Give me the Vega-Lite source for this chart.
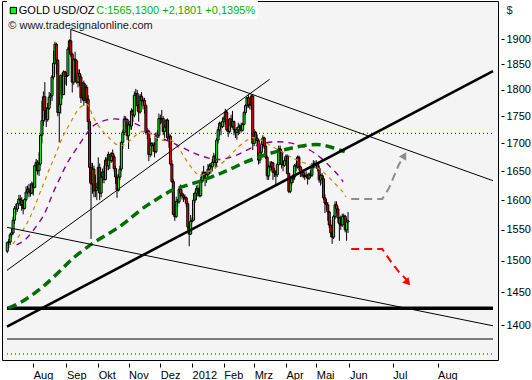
{
"$schema":"https://vega.github.io/schema/vega-lite/v6.json",
"width":496,"height":359,
"autosize":"none",
"padding":{"left":2,"top":1,"right":34,"bottom":20},
"background":"#ffffff",
"config":{"view":{"fill":"#f4f4f4","stroke":"#000000","strokeWidth":1},"font":"Liberation Sans"},
"datasets":{
"c":[
{"i":-18,"o":1515,"h":1531,"l":1512,"c":1529},{"i":-17,"o":1529,"h":1535,"l":1520,"c":1530},{"i":-16,"o":1530,"h":1545,"l":1525,"c":1542},{"i":-15,"o":1542,"h":1552,"l":1537,"c":1545},{"i":-14,"o":1545,"h":1572,"l":1542,"c":1566},{"i":-13,"o":1566,"h":1590,"l":1560,"c":1586},{"i":-12,"o":1586,"h":1594,"l":1575,"c":1585},{"i":-11,"o":1585,"h":1598,"l":1580,"c":1594},{"i":-10,"o":1594,"h":1609,"l":1590,"c":1602},{"i":-9,"o":1602,"h":1609,"l":1590,"c":1600},{"i":-8,"o":1600,"h":1605,"l":1582,"c":1592},{"i":-7,"o":1592,"h":1600,"l":1576,"c":1586},{"i":-6,"o":1586,"h":1603,"l":1584,"c":1601},{"i":-5,"o":1601,"h":1624,"l":1598,"c":1614},{"i":-4,"o":1614,"h":1625,"l":1610,"c":1619},{"i":-3,"o":1619,"h":1628,"l":1605,"c":1615},{"i":-2,"o":1615,"h":1629,"l":1606,"c":1612},{"i":-1,"o":1612,"h":1632,"l":1610,"c":1628},
{"i":0,"o":1628,"h":1631,"l":1608,"c":1622},{"i":1,"o":1622,"h":1662,"l":1620,"c":1660},{"i":2,"o":1660,"h":1672,"l":1650,"c":1666},{"i":3,"o":1666,"h":1670,"l":1644,"c":1651},{"i":4,"o":1651,"h":1684,"l":1642,"c":1663},{"i":5,"o":1663,"h":1717,"l":1660,"c":1715},{"i":6,"o":1715,"h":1779,"l":1700,"c":1742},{"i":7,"o":1742,"h":1797,"l":1732,"c":1787},{"i":8,"o":1787,"h":1815,"l":1740,"c":1760},{"i":9,"o":1760,"h":1767,"l":1730,"c":1744},{"i":10,"o":1744,"h":1775,"l":1740,"c":1765},{"i":11,"o":1765,"h":1796,"l":1762,"c":1786},{"i":12,"o":1786,"h":1794,"l":1772,"c":1789},{"i":13,"o":1789,"h":1829,"l":1779,"c":1825},{"i":14,"o":1825,"h":1877,"l":1820,"c":1852},{"i":15,"o":1852,"h":1895,"l":1849,"c":1890},{"i":16,"o":1890,"h":1893,"l":1830,"c":1858},{"i":17,"o":1858,"h":1860,"l":1750,"c":1757},{"i":18,"o":1757,"h":1787,"l":1702,"c":1772},{"i":19,"o":1772,"h":1830,"l":1755,"c":1828},{"i":20,"o":1828,"h":1833,"l":1783,"c":1791},{"i":21,"o":1791,"h":1838,"l":1790,"c":1835},{"i":22,"o":1835,"h":1837,"l":1810,"c":1826},
{"i":23,"o":1826,"h":1835,"l":1808,"c":1828},{"i":24,"o":1828,"h":1884,"l":1826,"c":1880},{"i":25,"o":1880,"h":1900,"l":1870,"c":1897},{"i":26,"o":1897,"h":1920,"l":1865,"c":1870},{"i":27,"o":1870,"h":1873,"l":1795,"c":1815},{"i":28,"o":1815,"h":1863,"l":1810,"c":1860},{"i":29,"o":1860,"h":1875,"l":1838,"c":1857},{"i":30,"o":1857,"h":1860,"l":1812,"c":1815},{"i":31,"o":1815,"h":1840,"l":1805,"c":1832},{"i":32,"o":1832,"h":1840,"l":1808,"c":1825},{"i":33,"o":1825,"h":1830,"l":1775,"c":1785},{"i":34,"o":1785,"h":1815,"l":1780,"c":1813},{"i":35,"o":1813,"h":1818,"l":1770,"c":1780},{"i":36,"o":1780,"h":1812,"l":1775,"c":1805},{"i":37,"o":1805,"h":1810,"l":1774,"c":1782},{"i":38,"o":1782,"h":1790,"l":1725,"c":1740},{"i":39,"o":1740,"h":1745,"l":1630,"c":1657},{"i":40,"o":1657,"h":1665,"l":1535,"c":1628},{"i":41,"o":1628,"h":1665,"l":1611,"c":1654},{"i":42,"o":1654,"h":1660,"l":1605,"c":1616},{"i":43,"o":1616,"h":1644,"l":1605,"c":1617},{"i":44,"o":1617,"h":1630,"l":1600,"c":1622},
{"i":45,"o":1622,"h":1675,"l":1618,"c":1657},{"i":46,"o":1657,"h":1664,"l":1600,"c":1612},{"i":47,"o":1612,"h":1645,"l":1605,"c":1640},{"i":48,"o":1640,"h":1655,"l":1630,"c":1649},{"i":49,"o":1649,"h":1660,"l":1629,"c":1636},{"i":50,"o":1636,"h":1675,"l":1634,"c":1670},{"i":51,"o":1670,"h":1675,"l":1652,"c":1660},{"i":52,"o":1660,"h":1685,"l":1652,"c":1680},{"i":53,"o":1680,"h":1681,"l":1654,"c":1669},{"i":54,"o":1669,"h":1684,"l":1665,"c":1682},{"i":55,"o":1682,"h":1689,"l":1667,"c":1676},{"i":56,"o":1676,"h":1680,"l":1650,"c":1655},{"i":57,"o":1655,"h":1660,"l":1628,"c":1640},{"i":58,"o":1640,"h":1645,"l":1604,"c":1617},{"i":59,"o":1617,"h":1645,"l":1615,"c":1640},{"i":60,"o":1640,"h":1660,"l":1635,"c":1654},{"i":61,"o":1654,"h":1705,"l":1650,"c":1702},{"i":62,"o":1702,"h":1725,"l":1690,"c":1720},{"i":63,"o":1720,"h":1751,"l":1715,"c":1745},{"i":64,"o":1745,"h":1750,"l":1732,"c":1744},{"i":65,"o":1744,"h":1746,"l":1706,"c":1714},
{"i":66,"o":1714,"h":1742,"l":1690,"c":1735},{"i":67,"o":1735,"h":1741,"l":1725,"c":1732},{"i":68,"o":1732,"h":1765,"l":1725,"c":1760},{"i":69,"o":1760,"h":1763,"l":1740,"c":1752},{"i":70,"o":1752,"h":1797,"l":1748,"c":1790},{"i":71,"o":1790,"h":1802,"l":1782,"c":1793},{"i":72,"o":1793,"h":1800,"l":1760,"c":1770},{"i":73,"o":1770,"h":1773,"l":1740,"c":1758},{"i":74,"o":1758,"h":1792,"l":1755,"c":1788},{"i":75,"o":1788,"h":1796,"l":1770,"c":1779},{"i":76,"o":1779,"h":1785,"l":1763,"c":1780},{"i":77,"o":1780,"h":1785,"l":1755,"c":1770},{"i":78,"o":1770,"h":1774,"l":1716,"c":1720},{"i":79,"o":1720,"h":1728,"l":1708,"c":1722},{"i":80,"o":1722,"h":1725,"l":1668,"c":1680},{"i":81,"o":1680,"h":1710,"l":1675,"c":1700},{"i":82,"o":1700,"h":1702,"l":1678,"c":1696},{"i":83,"o":1696,"h":1702,"l":1685,"c":1697},{"i":84,"o":1697,"h":1702,"l":1675,"c":1685},{"i":85,"o":1685,"h":1720,"l":1682,"c":1714},{"i":86,"o":1714,"h":1724,"l":1705,"c":1715},{"i":87,"o":1715,"h":1755,"l":1710,"c":1746},
{"i":88,"o":1746,"h":1753,"l":1735,"c":1745},{"i":89,"o":1745,"h":1762,"l":1737,"c":1746},{"i":90,"o":1746,"h":1750,"l":1715,"c":1722},{"i":91,"o":1722,"h":1735,"l":1710,"c":1730},{"i":92,"o":1730,"h":1744,"l":1726,"c":1743},{"i":93,"o":1743,"h":1746,"l":1705,"c":1710},{"i":94,"o":1710,"h":1718,"l":1692,"c":1713},{"i":95,"o":1713,"h":1716,"l":1660,"c":1663},{"i":96,"o":1663,"h":1670,"l":1630,"c":1632},{"i":97,"o":1632,"h":1636,"l":1574,"c":1576},{"i":98,"o":1576,"h":1592,"l":1565,"c":1572},{"i":99,"o":1572,"h":1606,"l":1570,"c":1598},{"i":100,"o":1598,"h":1602,"l":1588,"c":1597},{"i":101,"o":1597,"h":1622,"l":1594,"c":1619},{"i":102,"o":1619,"h":1627,"l":1605,"c":1612},{"i":103,"o":1612,"h":1618,"l":1601,"c":1608},{"i":104,"o":1608,"h":1611,"l":1597,"c":1605},{"i":105,"o":1605,"h":1610,"l":1600,"c":1604},{"i":106,"o":1604,"h":1606,"l":1588,"c":1594},{"i":107,"o":1594,"h":1598,"l":1550,"c":1555},{"i":108,"o":1555,"h":1560,"l":1523,"c":1543},{"i":109,"o":1543,"h":1575,"l":1542,"c":1564},
{"i":110,"o":1564,"h":1571,"l":1562,"c":1566},{"i":111,"o":1566,"h":1612,"l":1565,"c":1600},{"i":112,"o":1600,"h":1615,"l":1595,"c":1612},{"i":113,"o":1612,"h":1625,"l":1600,"c":1620},{"i":114,"o":1620,"h":1627,"l":1606,"c":1616},{"i":115,"o":1616,"h":1622,"l":1605,"c":1608},{"i":116,"o":1608,"h":1640,"l":1605,"c":1634},{"i":117,"o":1634,"h":1650,"l":1630,"c":1645},{"i":118,"o":1645,"h":1660,"l":1632,"c":1648},{"i":119,"o":1648,"h":1650,"l":1624,"c":1638},{"i":120,"o":1638,"h":1646,"l":1630,"c":1644},{"i":121,"o":1644,"h":1663,"l":1640,"c":1654},{"i":122,"o":1654,"h":1664,"l":1645,"c":1660},{"i":123,"o":1660,"h":1665,"l":1646,"c":1658},{"i":124,"o":1658,"h":1672,"l":1650,"c":1666},{"i":125,"o":1666,"h":1683,"l":1660,"c":1677},{"i":126,"o":1677,"h":1680,"l":1655,"c":1666},{"i":127,"o":1666,"h":1710,"l":1658,"c":1706},{"i":128,"o":1706,"h":1730,"l":1700,"c":1725},{"i":129,"o":1725,"h":1740,"l":1713,"c":1737},{"i":130,"o":1737,"h":1740,"l":1715,"c":1731},{"i":131,"o":1731,"h":1748,"l":1728,"c":1740},
{"i":132,"o":1740,"h":1750,"l":1730,"c":1745},{"i":133,"o":1745,"h":1764,"l":1735,"c":1758},{"i":134,"o":1758,"h":1762,"l":1722,"c":1725},{"i":135,"o":1725,"h":1728,"l":1712,"c":1722},{"i":136,"o":1722,"h":1747,"l":1718,"c":1745},{"i":137,"o":1745,"h":1753,"l":1728,"c":1732},{"i":138,"o":1732,"h":1760,"l":1728,"c":1740},{"i":139,"o":1740,"h":1742,"l":1715,"c":1725},{"i":140,"o":1725,"h":1727,"l":1710,"c":1720},{"i":141,"o":1720,"h":1730,"l":1707,"c":1725},{"i":142,"o":1725,"h":1738,"l":1715,"c":1730},{"i":143,"o":1730,"h":1735,"l":1718,"c":1732},{"i":144,"o":1732,"h":1738,"l":1720,"c":1724},{"i":145,"o":1724,"h":1738,"l":1722,"c":1735},{"i":146,"o":1735,"h":1760,"l":1733,"c":1757},{"i":147,"o":1757,"h":1773,"l":1752,"c":1770},{"i":148,"o":1770,"h":1787,"l":1765,"c":1785},{"i":149,"o":1785,"h":1790,"l":1766,"c":1772},{"i":150,"o":1772,"h":1778,"l":1763,"c":1771},{"i":151,"o":1771,"h":1792,"l":1762,"c":1788},{"i":152,"o":1788,"h":1791,"l":1688,"c":1700},
{"i":153,"o":1700,"h":1726,"l":1695,"c":1720},{"i":154,"o":1720,"h":1723,"l":1700,"c":1710},{"i":155,"o":1710,"h":1716,"l":1695,"c":1705},{"i":156,"o":1705,"h":1708,"l":1662,"c":1670},{"i":157,"o":1670,"h":1688,"l":1664,"c":1684},{"i":158,"o":1684,"h":1705,"l":1680,"c":1698},{"i":159,"o":1698,"h":1715,"l":1692,"c":1710},{"i":160,"o":1710,"h":1712,"l":1690,"c":1695},{"i":161,"o":1695,"h":1703,"l":1672,"c":1675},{"i":162,"o":1675,"h":1678,"l":1635,"c":1642},{"i":163,"o":1642,"h":1662,"l":1635,"c":1658},{"i":164,"o":1658,"h":1668,"l":1650,"c":1659},{"i":165,"o":1659,"h":1668,"l":1652,"c":1665},{"i":166,"o":1665,"h":1667,"l":1635,"c":1648},{"i":167,"o":1648,"h":1656,"l":1640,"c":1650},{"i":168,"o":1650,"h":1652,"l":1627,"c":1644},{"i":169,"o":1644,"h":1665,"l":1640,"c":1662},{"i":170,"o":1662,"h":1696,"l":1660,"c":1690},{"i":171,"o":1690,"h":1696,"l":1678,"c":1685},{"i":172,"o":1685,"h":1690,"l":1655,"c":1662},{"i":173,"o":1662,"h":1665,"l":1650,"c":1661},{"i":174,"o":1661,"h":1675,"l":1658,"c":1669},
{"i":175,"o":1669,"h":1680,"l":1660,"c":1677},{"i":176,"o":1677,"h":1680,"l":1645,"c":1646},{"i":177,"o":1646,"h":1648,"l":1612,"c":1615},{"i":178,"o":1615,"h":1635,"l":1612,"c":1630},{"i":179,"o":1630,"h":1640,"l":1625,"c":1637},{"i":180,"o":1637,"h":1645,"l":1630,"c":1640},{"i":181,"o":1640,"h":1663,"l":1635,"c":1660},{"i":182,"o":1660,"h":1665,"l":1650,"c":1658},{"i":183,"o":1658,"h":1678,"l":1655,"c":1675},{"i":184,"o":1675,"h":1678,"l":1652,"c":1658},{"i":185,"o":1658,"h":1660,"l":1640,"c":1650},{"i":186,"o":1650,"h":1655,"l":1640,"c":1648},{"i":187,"o":1648,"h":1653,"l":1638,"c":1642},{"i":188,"o":1642,"h":1648,"l":1635,"c":1641},{"i":189,"o":1641,"h":1650,"l":1638,"c":1643},{"i":190,"o":1643,"h":1646,"l":1627,"c":1638},{"i":191,"o":1638,"h":1648,"l":1635,"c":1645},{"i":192,"o":1645,"h":1652,"l":1638,"c":1643},{"i":193,"o":1643,"h":1665,"l":1640,"c":1660},{"i":194,"o":1660,"h":1670,"l":1655,"c":1662},{"i":195,"o":1662,"h":1668,"l":1656,"c":1664},
{"i":196,"o":1664,"h":1670,"l":1655,"c":1662},{"i":197,"o":1662,"h":1664,"l":1650,"c":1655},{"i":198,"o":1655,"h":1660,"l":1630,"c":1635},{"i":199,"o":1635,"h":1645,"l":1625,"c":1643},{"i":200,"o":1643,"h":1647,"l":1628,"c":1637},{"i":201,"o":1637,"h":1642,"l":1600,"c":1604},{"i":202,"o":1604,"h":1610,"l":1578,"c":1595},{"i":203,"o":1595,"h":1602,"l":1583,"c":1592},{"i":204,"o":1592,"h":1597,"l":1565,"c":1580},{"i":205,"o":1580,"h":1582,"l":1553,"c":1558},{"i":206,"o":1558,"h":1566,"l":1538,"c":1545},{"i":207,"o":1545,"h":1549,"l":1527,"c":1538},{"i":208,"o":1538,"h":1575,"l":1535,"c":1572},{"i":209,"o":1572,"h":1598,"l":1568,"c":1592},{"i":210,"o":1592,"h":1598,"l":1578,"c":1585},{"i":211,"o":1585,"h":1590,"l":1562,"c":1570},{"i":212,"o":1570,"h":1572,"l":1532,"c":1560},{"i":213,"o":1560,"h":1574,"l":1550,"c":1558},{"i":214,"o":1558,"h":1577,"l":1555,"c":1572},{"i":215,"o":1572,"h":1577,"l":1565,"c":1573},{"i":216,"o":1573,"h":1575,"l":1546,"c":1550},{"i":217,"o":1550,"h":1570,"l":1532,"c":1563},{"i":218,"o":1563,"h":1580,"l":1545,"c":1565}
],
"ln":[
{"s":"a","i":25.72,"p":1920.4},{"s":"a","i":318.4,"p":1633.6},
{"s":"b","i":-18.2,"p":1554.2},{"s":"b","i":318.4,"p":1399.0},
{"s":"c","i":-18.2,"p":1484.5},{"s":"c","i":163.69,"p":1820.5},
{"s":"sep","i":-18.2,"p":1379.4},{"s":"sep","i":318.4,"p":1379.4},
{"s":"d","i":-18.2,"p":1397.9},{"s":"d","i":318.4,"p":1836.7},
{"s":"h1","i":-18.2,"p":1425.4},{"s":"h1","i":318.4,"p":1425.4},
{"s":"h2","i":-18.2,"p":1718.4},{"s":"h2","i":318.4,"p":1718.4},
{"s":"h3","i":-18.2,"p":1357.5},{"s":"h3","i":318.4,"p":1357.5},
{"s":"g","i":-17.31,"p":1425.4},{"s":"g","i":-9.37,"p":1433.1},{"s":"g","i":-1.43,"p":1444.7},{"s":"g","i":6.45,"p":1457.8},{"s":"g","i":13.23,"p":1471.9},{"s":"g","i":21.17,"p":1489.3},{"s":"g","i":26.81,"p":1503.0},{"s":"g","i":34.75,"p":1517.0},{"s":"g","i":41.53,"p":1528.9},{"s":"g","i":49.47,"p":1539.9},{"s":"g","i":57.35,"p":1551.4},{"s":"g","i":65.29,"p":1564.8},{"s":"g","i":72.07,"p":1579.4},{"s":"g","i":80.01,"p":1593.4},{"s":"g","i":85.65,"p":1601.5},{"s":"g","i":93.59,"p":1614.5},{"s":"g","i":100.37,"p":1621.4},{"s":"g","i":112.79,"p":1630.1},{"s":"g","i":122.97,"p":1639.5},{"s":"g","i":130.91,"p":1647.6},{"s":"g","i":138.79,"p":1656.4},{"s":"g","i":147.88,"p":1667.9},{"s":"g","i":155.75,"p":1675.0},{"s":"g","i":163.69,"p":1682.1},{"s":"g","i":172.72,"p":1688.1},{"s":"g","i":180.66,"p":1693.0},{"s":"g","i":189.68,"p":1697.1},{"s":"g","i":198.78,"p":1698.9},{"s":"g","i":206.65,"p":1693.0},{"s":"g","i":215.75,"p":1685.0},
{"s":"pu","i":-11.6,"p":1525.2},{"s":"pu","i":-4.82,"p":1533.3},{"s":"pu","i":2.85,"p":1558.1},{"s":"pu","i":7.6,"p":1574.9},{"s":"pu","i":10.99,"p":1595.2},{"s":"pu","i":14.39,"p":1617.4},{"s":"pu","i":18.93,"p":1640.1},{"s":"pu","i":23.21,"p":1664.8},{"s":"pu","i":27.96,"p":1682.7},{"s":"pu","i":33.39,"p":1704.4},{"s":"pu","i":38.14,"p":1722.7},{"s":"pu","i":41.53,"p":1733.8},{"s":"pu","i":48.32,"p":1742.2},{"s":"pu","i":56.26,"p":1746.3},{"s":"pu","i":63.05,"p":1743.1},{"s":"pu","i":69.83,"p":1737.5},{"s":"pu","i":77.5,"p":1728.2},{"s":"pu","i":82.25,"p":1719.0},{"s":"pu","i":89.04,"p":1709.0},{"s":"pu","i":96.98,"p":1700.8},{"s":"pu","i":103.97,"p":1691.7},{"s":"pu","i":109.4,"p":1684.5},{"s":"pu","i":114.15,"p":1679.1},{"s":"pu","i":120.9,"p":1673.7},{"s":"pu","i":126.4,"p":1670.1},{"s":"pu","i":133.2,"p":1671.9},{"s":"pu","i":139.9,"p":1677.3},{"s":"pu","i":146.7,"p":1686.3},{"s":"pu","i":153.5,"p":1695.3},{"s":"pu","i":160.3,"p":1700.8},{"s":"pu","i":165.7,"p":1703.1},{"s":"pu","i":175.0,"p":1703.1},{"s":"pu","i":184.2,"p":1697.2},{"s":"pu","i":192.0,"p":1688.1},{"s":"pu","i":199.7,"p":1673.7},{"s":"pu","i":205.6,"p":1658.2},{"s":"pu","i":211.3,"p":1643.6},{"s":"pu","i":214.6,"p":1631.8},
{"s":"or","i":-14.12,"p":1526.8},{"s":"or","i":-9.37,"p":1541.6},{"s":"or","i":-4.82,"p":1558.1},{"s":"or","i":-1.43,"p":1574.9},{"s":"or","i":1.97,"p":1595.2},{"s":"or","i":5.36,"p":1617.4},{"s":"or","i":8.75,"p":1638.3},{"s":"or","i":12.15,"p":1661.2},{"s":"or","i":15.54,"p":1679.1},{"s":"or","i":18.46,"p":1700.8},{"s":"or","i":21.17,"p":1717.2},{"s":"or","i":25.72,"p":1737.5},{"s":"or","i":30.0,"p":1759.9},{"s":"or","i":33.39,"p":1769.4},{"s":"or","i":36.79,"p":1775.0},{"s":"or","i":38.82,"p":1769.4},{"s":"or","i":40.18,"p":1756.2},{"s":"or","i":43.57,"p":1737.5},{"s":"or","i":48.32,"p":1721.4},{"s":"or","i":53.75,"p":1706.2},{"s":"or","i":58.5,"p":1695.3},{"s":"or","i":61.9,"p":1695.3},{"s":"or","i":66.44,"p":1703.1},{"s":"or","i":70.72,"p":1715.4},{"s":"or","i":76.62,"p":1724.5},{"s":"or","i":80.9,"p":1719.0},{"s":"or","i":85.65,"p":1708.0},{"s":"or","i":90.4,"p":1704.4},{"s":"or","i":95.83,"p":1708.0},{"s":"or","i":99.9,"p":1695.3},{"s":"or","i":103.3,"p":1680.9},{"s":"or","i":106.7,"p":1666.6},{"s":"or","i":110.8,"p":1652.4},{"s":"or","i":114.2,"p":1641.8},{"s":"or","i":118.2,"p":1643.6},{"s":"or","i":123.0,"p":1652.4},{"s":"or","i":129.8,"p":1661.2},{"s":"or","i":136.6,"p":1679.1},{"s":"or","i":142.0,"p":1694.1},{"s":"or","i":147.9,"p":1706.2},{"s":"or","i":152.2,"p":1712.2},{"s":"or","i":155.5,"p":1708.6},{"s":"or","i":161.5,"p":1700.8},{"s":"or","i":167.1,"p":1691.7},{"s":"or","i":173.9,"p":1682.7},{"s":"or","i":179.3,"p":1673.7},{"s":"or","i":185.2,"p":1667.1},{"s":"or","i":192.0,"p":1661.2},{"s":"or","i":195.4,"p":1658.2},{"s":"or","i":199.7,"p":1652.4},{"s":"or","i":204.4,"p":1640.6},{"s":"or","i":209.8,"p":1626.1},{"s":"or","i":214.6,"p":1614.5},{"s":"or","i":216.6,"p":1605.4},
{"s":"fg","i":220.2,"p":1602.0},{"s":"fg","i":241.7,"p":1602.0},{"s":"fg","i":246.3,"p":1620.4},{"s":"fg","i":249.7,"p":1640.6},{"s":"fg","i":253.1,"p":1661.2},{"s":"fg","i":256.5,"p":1677.3},
{"s":"fr","i":220.2,"p":1518.6},{"s":"fr","i":241.7,"p":1518.6},{"s":"fr","i":244.0,"p":1510.6},{"s":"fr","i":248.5,"p":1495.7},{"s":"fr","i":253.1,"p":1482.3},{"s":"fr","i":259.9,"p":1466.5}
],
"ah":[
{"i":257.0,"p":1678.2,"ang":30,"col":"#8c8c8c"},
{"i":259.4,"p":1465.2,"ang":138,"col":"#ff0000"}
],
"ann":[
{"i":-10.04,"p":1959.4,"t":"GOLD USD/OZ","col":"#000000"},
{"i":43.57,"p":1959.4,"t":"C:1565,1300 +2,1801 +0,1395%","col":"#00b400"},
{"i":-17.31,"p":1928.2,"t":"© www.tradesignalonline.com","col":"#1a1a1a"}
]
},
"encoding":{
"x":{"field":"i","type":"quantitative","scale":{"type":"linear","domain":[-18.2,318.4],"nice":false,"zero":false},
"axis":{"values":[0,23,45,66,88,110,132,153,175,196,219,249,280],
"labelExpr":"['Aug','Sep','Okt','Nov','Dez','2012','Feb','Mrz','Apr','Mai','Jun','Jul','Aug'][indexof([0,23,45,66,88,110,132,153,175,196,219,249,280], datum.value)]",
"title":null,"grid":false,"domain":false,"tickSize":4,"tickColor":"#000000","offset":3,"labelAlign":"left","labelDx":1,"labelPadding":2,"labelFont":"Liberation Sans","labelFontSize":11,"labelColor":"#000000","labelOverlap":false,"labelFlush":false}},
"y":{"field":"p","type":"quantitative","scale":{"type":"log","domain":[1348.8,1979.4],"nice":false,"zero":false},
"axis":{"orient":"right","values":[1400,1450,1500,1550,1600,1650,1700,1750,1800,1850,1900],"format":"d","title":"$","titleAngle":0,"titleAlign":"left","titleBaseline":"middle","titleX":5,"titleY":9,"titleFont":"Liberation Sans","titleFontSize":11,"titleFontWeight":"normal","titleColor":"#202040","grid":false,"domain":false,"tickSize":3,"tickColor":"#000000","offset":3,"labelPadding":2,"labelFont":"Liberation Sans","labelFontSize":11,"labelColor":"#000000","labelOverlap":false,"labelFlush":false}}
},
"layer":[
{"data":{"values":[{"i":-18.2,"i2":155.55,"p":1979.4,"p2":1941.7}]},"mark":{"type":"rect","fill":"#ffffff","clip":true},"encoding":{"x2":{"field":"i2"},"y2":{"field":"p2"}}},
{"data":{"name":"ln"},"transform":[{"filter":"datum.s=='h1'"}],"mark":{"type":"line","stroke":"#000000","strokeWidth":3.4,"clip":true}},
{"data":{"name":"ln"},"transform":[{"filter":"datum.s=='h2' || datum.s=='h3'"}],"mark":{"type":"line","stroke":"#0000ee","strokeWidth":1,"strokeDash":[1,3],"clip":true},"encoding":{"detail":{"field":"s"}}},
{"data":{"name":"ln"},"transform":[{"filter":"datum.s=='sep'"}],"mark":{"type":"line","stroke":"#000000","strokeWidth":1,"clip":true}},
{"data":{"name":"c"},"mark":{"type":"rule","stroke":"#000000","strokeWidth":1},"encoding":{"y":{"field":"l","type":"quantitative"},"y2":{"field":"h"}}},
{"data":{"name":"c"},"mark":{"type":"bar","orient":"vertical","size":2,"stroke":"#000000","strokeWidth":1},"encoding":{"y":{"field":"o","type":"quantitative"},"y2":{"field":"c"},"fill":{"condition":{"test":"datum.c >= datum.o","value":"#00ff00"},"value":"#ff0000"}}},
{"data":{"name":"ln"},"transform":[{"filter":"datum.s=='or'"}],"mark":{"type":"line","stroke":"#cc8800","strokeWidth":1.2,"strokeDash":[4,4],"interpolate":"basis","clip":true}},
{"data":{"name":"ln"},"transform":[{"filter":"datum.s=='pu'"}],"mark":{"type":"line","stroke":"#8a008a","strokeWidth":1.4,"strokeDash":[6,5],"interpolate":"basis","clip":true}},
{"data":{"name":"ln"},"transform":[{"filter":"datum.s=='g'"}],"mark":{"type":"line","stroke":"#006e00","strokeWidth":3.5,"strokeDash":[9,5],"interpolate":"basis","clip":true}},
{"data":{"name":"ln"},"transform":[{"filter":"datum.s=='a' || datum.s=='b' || datum.s=='c'"}],"mark":{"type":"line","stroke":"#000000","strokeWidth":1,"clip":true},"encoding":{"detail":{"field":"s"}}},
{"data":{"name":"ln"},"transform":[{"filter":"datum.s=='d'"}],"mark":{"type":"line","stroke":"#000000","strokeWidth":2.6,"clip":true}},
{"data":{"name":"ln"},"transform":[{"filter":"datum.s=='fg'"}],"mark":{"type":"line","stroke":"#8c8c8c","strokeWidth":2,"strokeDash":[8,5],"clip":true}},
{"data":{"name":"ln"},"transform":[{"filter":"datum.s=='fr'"}],"mark":{"type":"line","stroke":"#ff0000","strokeWidth":2,"strokeDash":[8,5],"clip":true}},
{"data":{"name":"ah"},"mark":{"type":"point","shape":"triangle-up","filled":true,"size":70,"opacity":1},"encoding":{"angle":{"field":"ang","type":"quantitative","scale":null},"color":{"field":"col","type":"nominal","scale":null}}},
{"data":{"values":[{"i":-13.78,"p":1959.4}]},"mark":{"type":"point","shape":"square","filled":true,"size":40,"fill":"#00ff00","stroke":"#000000","strokeWidth":1,"opacity":1}},
{"data":{"name":"ann"},"mark":{"type":"text","align":"left","baseline":"middle","font":"Liberation Sans","fontSize":11},"encoding":{"text":{"field":"t"},"color":{"field":"col","type":"nominal","scale":null}}}
]
}
